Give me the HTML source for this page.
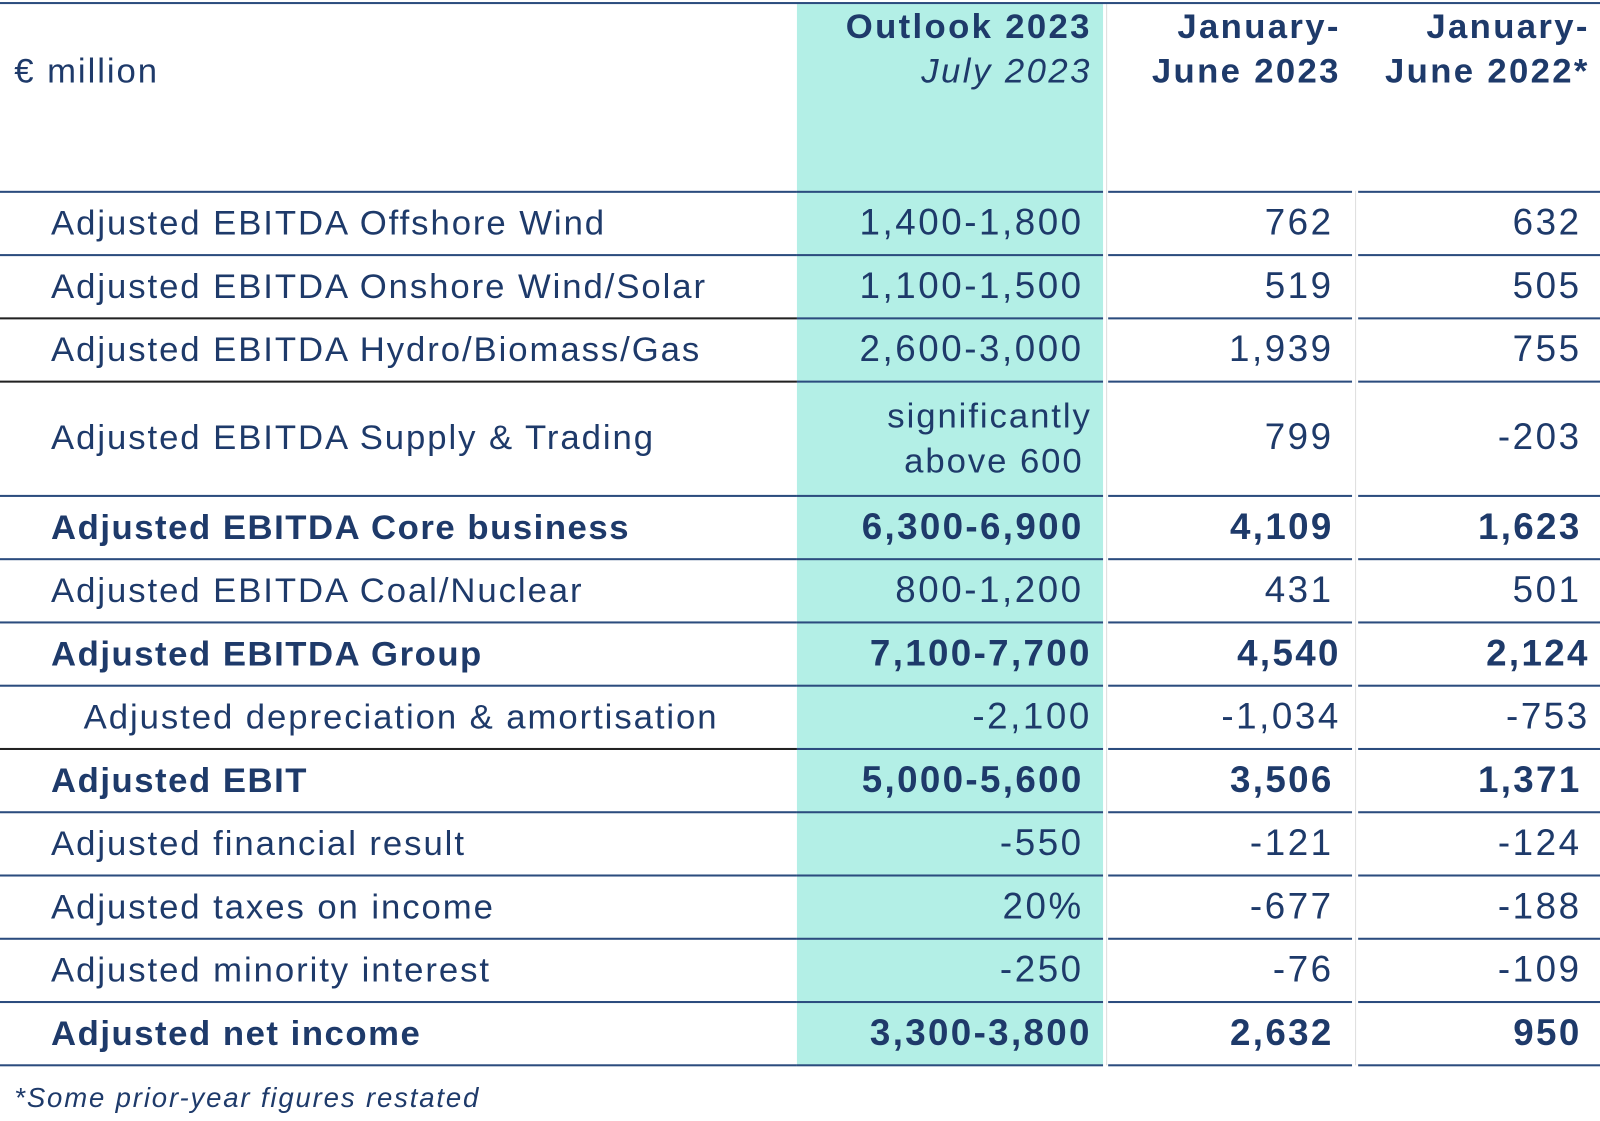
<!DOCTYPE html>
<html><head><meta charset="utf-8"><style>
body{margin:0;width:1600px;height:1121px;background:#fff;position:relative;overflow:hidden;font-family:"Liberation Sans",sans-serif;color:#1e3a6a}
#w{position:absolute;left:0;top:0;width:1568px;height:1099px;transform:scale(1.0204);transform-origin:0 0}
.t{position:absolute;font-size:34px;white-space:nowrap;line-height:40px;letter-spacing:1.9px}
.r{text-align:right;font-size:36px;letter-spacing:2.5px;margin-right:-2.5px}
.b{font-weight:bold;letter-spacing:1.5px}
.b.r{letter-spacing:2.3px}
.hd{font-size:34px;letter-spacing:2.4px}
.h{position:absolute;height:2px;background:#2b4c7e}
.k{position:absolute;height:2px;background:#222}
</style></head><body><div id="w">
<div style="position:absolute;left:781px;top:4px;width:300px;height:1040px;background:#b3efe6"></div>
<div style="position:absolute;left:1084px;top:4px;width:1px;height:1040px;background:#ddd"></div>
<div style="position:absolute;left:1328px;top:187px;width:1px;height:857px;background:#ddd"></div>
<div class="h" style="left:0;top:2px;width:1600px"></div>
<div class="t" style="left:14px;top:50px">€ million</div>
<div class="t b r hd" style="left:700px;width:370px;top:6px">Outlook 2023</div>
<div class="t r hd" style="left:700px;width:370px;top:50px;font-style:italic">July 2023</div>
<div class="t b r hd" style="left:1090px;width:224px;top:6px">January-</div>
<div class="t b r hd" style="left:1090px;width:224px;top:50px">June 2023</div>
<div class="t b r hd" style="left:1330px;width:228px;top:6px">January-</div>
<div class="t b r hd" style="left:1330px;width:228px;top:50px">June 2022*</div>
<div class="t r" style="left:770px;width:300px;top:388px;font-size:34px;letter-spacing:1.9px">significantly</div>
<div class="t r" style="left:770px;width:292px;top:432px;font-size:34px;letter-spacing:1.9px">above 600</div>
<div class="t" style="left:14px;top:1056px;font-size:27px;font-style:italic;letter-spacing:1.8px">*Some prior-year figures restated</div>
</div>
<script>
var W=document.getElementById('w');
var lines=[187,249,311,373,485,547,609,671,733,795,857,919,981,1043];
var black={311:1,373:1,733:1};
lines.forEach(function(y){
 var l=document.createElement('div');l.className=black[y]?'k':'h';l.style.cssText='left:0;top:'+y+'px;width:781px';W.appendChild(l);
 [[781,300],[1086,239],[1331,269]].forEach(function(s){var d=document.createElement('div');d.className='h';d.style.cssText='left:'+s[0]+'px;top:'+y+'px;width:'+s[1]+'px';W.appendChild(d);});
});
var rows=[
["Adjusted EBITDA Offshore Wind","1,400-1,800","762","632",0,0],
["Adjusted EBITDA Onshore Wind/Solar","1,100-1,500","519","505",0,0],
["Adjusted EBITDA Hydro/Biomass/Gas","2,600-3,000","1,939","755",0,0],
["Adjusted EBITDA Supply & Trading","","799","-203",0,0],
["Adjusted EBITDA Core business","6,300-6,900","4,109","1,623",1,0],
["Adjusted EBITDA Coal/Nuclear","800-1,200","431","501",0,0],
["Adjusted EBITDA Group","7,100-7,700","4,540","2,124",1,1],
["Adjusted depreciation & amortisation","-2,100","-1,034","-753",0,1],
["Adjusted EBIT","5,000-5,600","3,506","1,371",1,0],
["Adjusted financial result","-550","-121","-124",0,0],
["Adjusted taxes on income","20%","-677","-188",0,0],
["Adjusted minority interest","-250","-76","-109",0,0],
["Adjusted net income","3,300-3,800","2,632","950",1,0]];
var ys=[199,261,323,409,497,559,621,683,745,807,869,931,993];
rows.forEach(function(r,i){
 var y=ys[i],e=r[5]?[1070,1314,1558]:[1062,1307,1550];
 if(i==12)e=[1070,1307,1550];
 function add(txt,x,w,right){var d=document.createElement('div');d.className='t'+(r[4]?' b':'')+(right?' r':'');d.style.left=x+'px';d.style.top=(right?y-1:y)+'px';if(w)d.style.width=w+'px';d.textContent=txt;W.appendChild(d);}
 add(r[0],i==7?82:50,0,0);
 if(r[1])add(r[1],e[0]-300,300,1);
 add(r[2],e[1]-220,220,1);
 add(r[3],e[2]-220,220,1);
});
</script>
</body></html>
